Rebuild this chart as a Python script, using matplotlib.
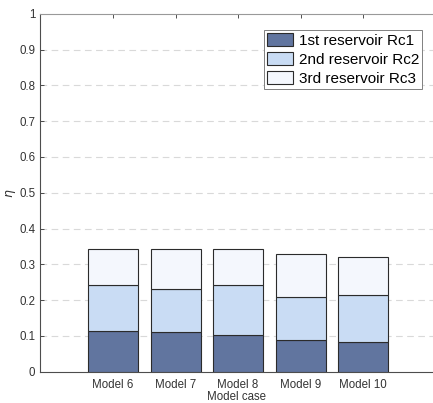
import matplotlib.pyplot as plt
import numpy as np

plt.rcParams['font.family'] = ['Liberation Sans', 'DejaVu Sans']

cases = ['Model 6', 'Model 7', 'Model 8', 'Model 9', 'Model 10']
rc1 = [0.114, 0.110, 0.102, 0.088, 0.082]
rc2 = [0.129, 0.121, 0.141, 0.122, 0.133]
rc3 = [0.099, 0.111, 0.099, 0.118, 0.105]
labels = ['1st reservoir Rc1', '2nd reservoir Rc2', '3rd reservoir Rc3']
colors = ['#61759f', '#c9dcf4', '#f4f7fd']

x = np.arange(1, len(cases) + 1)
rc1 = np.array(rc1)
rc2 = np.array(rc2)
rc3 = np.array(rc3)

fig = plt.figure(figsize=(4.33, 4.03), dpi=100)
ax = fig.add_axes([0.0924, 0.0777, 0.9076, 0.888])

ax.bar(x, rc1, 0.8, color=colors[0], edgecolor='#2b2b2b', linewidth=0.8, label=labels[0], zorder=3)
ax.bar(x, rc2, 0.8, bottom=rc1, color=colors[1], edgecolor='#2b2b2b', linewidth=0.8, label=labels[1], zorder=3)
ax.bar(x, rc3, 0.8, bottom=rc1 + rc2, color=colors[2], edgecolor='#2b2b2b', linewidth=0.8, label=labels[2], zorder=3)

ax.set_xlim(-0.17, 6.12)
ax.set_ylim(0, 1)
ax.set_yticks(np.arange(0, 1.01, 0.1))
ax.set_yticklabels(['0', '0.1', '0.2', '0.3', '0.4', '0.5', '0.6', '0.7', '0.8', '0.9', '1'])
ax.set_xticks(x)
ax.set_xticklabels(cases)

# 점선 그리드 (0과 1 제외)
for yv in np.arange(0.1, 0.95, 0.1):
    ax.axhline(yv, color='#d9d9d9', linestyle=(0, (6, 4)), linewidth=0.8, zorder=1)

ax.tick_params(axis='both', direction='in', length=3, width=0.6, colors='#333333', labelsize=8.3)
ax.tick_params(axis='x', top=True, pad=5)
ax.tick_params(axis='y', pad=3.5)
for s in ['left', 'bottom']:
    ax.spines[s].set_color('#4d4d4d')
    ax.spines[s].set_linewidth(0.8)
ax.spines['top'].set_color('#999999')
ax.spines['top'].set_linewidth(0.8)
ax.spines['right'].set_visible(False)

ax.set_xlabel('Model case', fontsize=8.3, color='#333333', labelpad=0)
ax.set_ylabel(r'$\eta$', fontsize=9, color='#333333', labelpad=1)

leg = ax.legend(loc='upper right', bbox_to_anchor=(0.972, 0.955), fontsize=11,
                frameon=True, fancybox=False, edgecolor='#808080', framealpha=1,
                handlelength=1.7, handleheight=0.9, handletextpad=0.35,
                borderpad=0.2, labelspacing=0.3, borderaxespad=0)
leg.get_frame().set_linewidth(0.7)

fig.savefig('out.png', dpi=100)
